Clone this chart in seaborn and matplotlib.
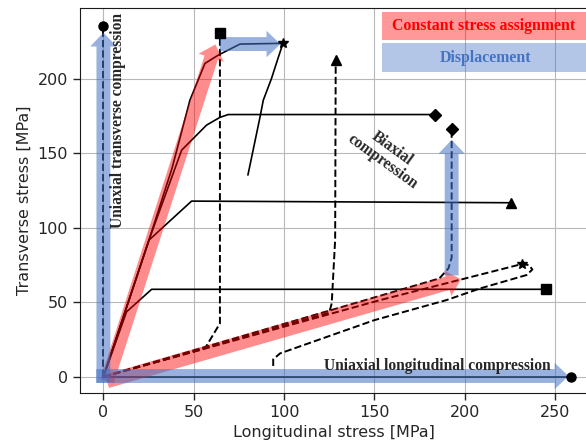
import numpy as np
import pandas as pd
import seaborn as sns
import matplotlib
matplotlib.use("Agg")
import matplotlib.pyplot as plt
import matplotlib.patches as mpatches

'''Data read off the reference (longitudinal x, transverse y, MPa)'''

# solid curves
sq_solid_x = [0, 12.8, 26.7, 245]
sq_solid_y = [0, 43.6, 58.7, 58.7]
tri_solid_x = [0, 25.2, 48.8, 225.5]
tri_solid_y = [0, 91.7, 117.9, 116.8]
dia_solid_x = [0, 25.2, 43.3, 57.1, 64.5, 69.1, 183.6]
dia_solid_y = [0, 91.7, 152.1, 168.9, 174.1, 176.0, 176.0]
star_solid_x = [0, 25.2, 38, 47.9, 56.2, 63.6, 75.6, 99.4, 97, 93, 88.5, 86.7, 80]
star_solid_y = [0, 91.7, 140, 185.7, 210.3, 215.9, 223.3, 223.8, 215, 200, 185.6, 174.3, 135.4]
long_x = [0, 258.9]
long_y = [0, 0]

# dashed curves
trans_x = [0, 0]
trans_y = [0, 235.4]
sq_dash_x = [0, 56.2, 64.5, 64.5]
sq_dash_y = [0, 19, 35.8, 230.5]
tri_dash_x = [0, 125, 126.4, 128.3, 128.6]
tri_dash_y = [0, 43, 49.3, 92, 212.6]
dia_dash_x = [0, 186, 191, 192.8, 192.8]
dia_dash_y = [0, 66, 72.7, 80, 166]
star_dash_x = [0, 153.3, 231.5, 235.5, 237.5, 234.3, 208.6, 190, 150, 97.8, 94, 94]
star_dash_y = [0, 51.5, 75.6, 75.0, 72, 68.3, 59.3, 51.5, 38, 15.7, 11.7, 7.2]

# end markers
end_x = [0, 64.5, 99.4, 128.6, 183.6, 192.8, 225.5, 245, 231.5, 258.9]
end_y = [235.4, 230.5, 223.8, 212.6, 176.0, 166, 116.8, 58.7, 75.6, 0]
end_marker = ['o', 's', '*', '^', 'D', 'D', '^', 's', '*', 'o']

# loading-path arrows
red_arrows = [((2, -3), (62, 223)), ((2, -3), (198, 65.4))]
blue_arrows = [((0, -4), (0, 231)), ((-4, 0.5), (257.5, 0.5)),
               ((64.5, 223.3), (98, 223.3)), ((192.8, 68), (192.8, 159))]

solid = [(sq_solid_x, sq_solid_y), (tri_solid_x, tri_solid_y), (dia_solid_x, dia_solid_y),
         (star_solid_x, star_solid_y), (long_x, long_y)]
dashed = [(trans_x, trans_y), (sq_dash_x, sq_dash_y), (tri_dash_x, tri_dash_y),
          (dia_dash_x, dia_dash_y), (star_dash_x, star_dash_y)]

sns.set_style("whitegrid", {"axes.edgecolor": "0.1", "grid.color": ".72",
                            "xtick.bottom": True, "ytick.left": True})
plt.rcParams['font.family'] = ['DejaVu Sans']

fig = plt.figure(figsize=(5.86, 4.47), dpi=100)
ax = fig.add_axes([0.1358, 0.1208, 0.8692, 0.8606])

for xs, ys in solid:
    df = pd.DataFrame({'x': xs, 'y': ys})
    sns.lineplot(data=df, x='x', y='y', sort=False, estimator=None, color='k', lw=1.2, ax=ax, zorder=2)
for xs, ys in dashed:
    df = pd.DataFrame({'x': xs, 'y': ys})
    sns.lineplot(data=df, x='x', y='y', sort=False, estimator=None, color='k', lw=1.4,
                 linestyle='--', ax=ax, zorder=2)

def band_arrow(start, end, color, alpha):
    '''thick translucent arrow along a loading path'''
    arr = mpatches.FancyArrowPatch(start, end, arrowstyle="simple,head_length=1.0,head_width=1.9,tail_width=1.0",
                                   mutation_scale=10, color=color, alpha=alpha, lw=0,
                                   shrinkA=0, shrinkB=0, zorder=3)
    ax.add_patch(arr)

for s, e in red_arrows:
    band_arrow(s, e, '#ff0000', 0.45)
for s, e in blue_arrows:
    band_arrow(s, e, '#4472c4', 0.55)

for x, y, m in zip(end_x, end_y, end_marker):
    ax.plot(x, y, marker=m, color='k', ms=7.5 if m == '*' else 6.5, zorder=4)

serif = ['Liberation Serif', 'DejaVu Serif']
ax.text(8.2, 172, 'Uniaxial transverse compression', rotation=90, ha='center', va='center',
        family=serif, fontweight='bold', fontsize=11.2, zorder=5)
ax.text(184.7, 7.4, 'Uniaxial longitudinal compression', ha='center', va='center',
        family=serif, fontweight='bold', fontsize=11.2, zorder=5)
ax.text(157, 149, 'Biaxial\ncompression', rotation=-36, ha='center', va='center',
        family=serif, fontweight='bold', fontsize=11.2, linespacing=1.0, zorder=5,
        rotation_mode='anchor')

ax.set_xlim(-13.2, 268.8)
ax.set_ylim(-10.9, 247.3)
ax.set_xticks([0, 50, 100, 150, 200, 250])
ax.set_yticks([0, 50, 100, 150, 200])
ax.tick_params(labelsize=11.5, length=5, width=1)
ax.set_xlabel('Longitudinal stress [MPa]', fontsize=11.5)
ax.set_ylabel('Transverse stress [MPa]', fontsize=11.5)

# legend-like boxes in the top right corner
fig.add_artist(mpatches.Rectangle((0.652, 0.9105), 0.348, 0.0625, transform=fig.transFigure,
                                  color='#ff0000', alpha=0.4, lw=0))
fig.add_artist(mpatches.Rectangle((0.652, 0.839), 0.348, 0.0648, transform=fig.transFigure,
                                  color='#4472c4', alpha=0.4, lw=0))
fig.text(0.826, 0.9418, 'Constant stress assignment', color='#ff0000', ha='center', va='center',
         family=serif, fontweight='bold', fontsize=11.4)
fig.text(0.828, 0.870, 'Displacement', color='#4472c4', ha='center', va='center',
         family=serif, fontweight='bold', fontsize=11.4)

fig.savefig('out.png', dpi=100)
